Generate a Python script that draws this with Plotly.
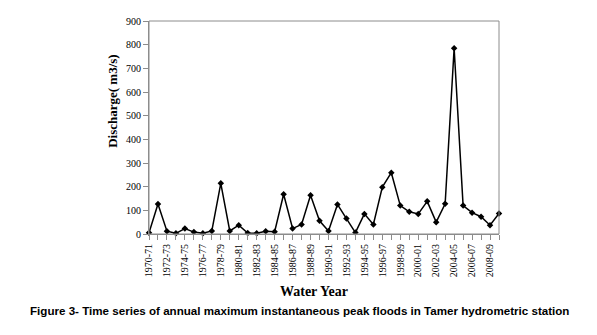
import plotly.graph_objects as go

# Water years 1970-71 .. 2009-10
years = [f"{y}-{str(y + 1)[-2:]}" for y in range(1970, 2010)]

# Annual maximum instantaneous peak discharge (m3/s)
peak_discharge = [5, 127, 12, 3, 23, 8, 3, 13, 214, 13,
                  37, 4, 3, 12, 10, 168, 23, 40, 164, 56,
                  13, 125, 65, 6, 85, 40, 198, 259, 120, 94,
                  85, 138, 50, 128, 785, 120, 90, 73, 37, 87]

# every category gets a tick; every other one gets a label
tick_text = [y if i % 2 == 0 else "" for i, y in enumerate(years)]

serif = "Liberation Serif"
grey = "#8c8c8c"

fig = go.Figure()
fig.add_trace(go.Scatter(
    x=years, y=peak_discharge,
    mode="lines+markers",
    line=dict(color="black", width=1.5),
    marker=dict(symbol="diamond", size=5, color="black"),
    cliponaxis=False,
    showlegend=False,
))

fig.update_layout(
    width=597, height=335,
    margin=dict(l=149, r=98, t=21, b=101),
    paper_bgcolor="white", plot_bgcolor="white",
    font=dict(family=serif, size=10, color="black"),
    shapes=[dict(type="rect", xref="paper", yref="paper",
                 x0=0, y0=0, x1=1, y1=1,
                 line=dict(color=grey, width=1))],
    annotations=[
        dict(text="<b>Discharge( m3/s)</b>", xref="paper", yref="paper",
             x=-0.103, y=0.625, textangle=-90, showarrow=False,
             xanchor="center", yanchor="middle",
             font=dict(family=serif, size=13)),
        dict(text="<b>Water Year</b>", xref="paper", yref="paper",
             x=0.47, y=-0.27, showarrow=False,
             xanchor="center", yanchor="middle",
             font=dict(family=serif, size=14)),
        dict(text="<b>Figure 3- Time series of annual maximum instantaneous peak floods in Tamer hydrometric station</b>",
             xref="paper", yref="paper", x=0.43, y=-0.36,
             xanchor="center", yanchor="middle", showarrow=False,
             font=dict(family="Liberation Sans", size=11.6)),
    ],
)

fig.update_xaxes(
    type="category", categoryorder="array", categoryarray=years,
    range=[0, len(years) - 1],
    tickmode="array", tickvals=years, ticktext=tick_text,
    tickangle=-90, ticks="outside", ticklen=5, tickcolor=grey,
    showline=True, linecolor=grey, linewidth=1,
    showgrid=False, zeroline=False,
    tickfont=dict(family=serif, size=10),
)
fig.update_yaxes(
    range=[0, 900], dtick=100,
    ticks="outside", ticklen=5, tickcolor=grey,
    showline=True, linecolor=grey, linewidth=1,
    showgrid=False, zeroline=False,
    tickfont=dict(family=serif, size=10),
)

fig.write_html("out.html")
